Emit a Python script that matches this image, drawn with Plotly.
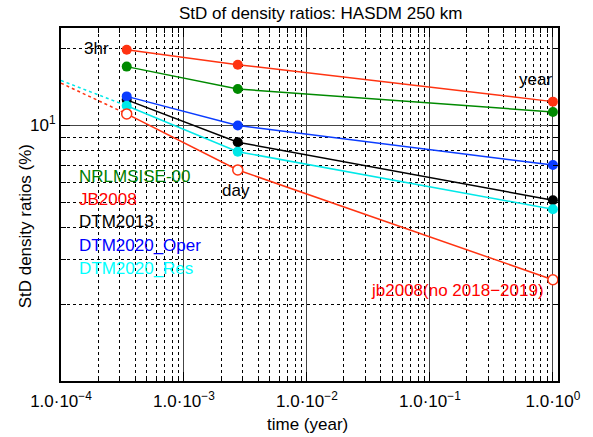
import plotly.graph_objects as go

# ---------------- data ----------------
times = [3 / 24 / 365.25, 1 / 365.25, 1.0]          # 3hr, day, year (in years)
nrlmsise = [17.0, 13.9, 11.3]
jb2008 = [19.8, 17.3, 12.4]
dtm2013 = [12.6, 8.6, 5.1]
dtm2020_oper = [13.0, 10.0, 7.0]
dtm2020_res = [11.95, 7.9, 4.7]
jb2008_no1819 = [11.1, 6.7, 2.49]

ext_times = [1e-4, 3 / 24 / 365.25]
ext_res = [15.0, 11.95]
ext_jb = [14.65, 11.1]

x_major = [1e-4, 1e-3, 1e-2, 1e-1, 1.0]
x_major_text = ["1.0·10<sup>−4</sup>", "1.0·10<sup>−3</sup>", "1.0·10<sup>−2</sup>",
                "1.0·10<sup>−1</sup>", "1.0·10<sup>0</sup>"]
x_minor = [m * d for d in [1e-4, 1e-3, 1e-2, 1e-1] for m in range(2, 10)]
y_major = [10]
y_major_text = ["10<sup>1</sup>"]
y_minor = [2, 3, 4, 5, 6, 7, 8, 9, 20]

FONT = "Liberation Sans, Arial, Helvetica, sans-serif"
FS = 17

RED = "#ff3311"
GREEN = "#008a00"
BLUE = "#0a3cff"
CYAN = "#00e8e8"

fig = go.Figure()

# dotted extensions
fig.add_trace(go.Scatter(x=ext_times, y=ext_res, mode="lines",
                         line=dict(color=CYAN, width=1.5, dash="dot"), showlegend=False))
fig.add_trace(go.Scatter(x=ext_times, y=ext_jb, mode="lines",
                         line=dict(color=RED, width=1.5, dash="dot"), showlegend=False))

series = [
    (nrlmsise, GREEN, False),
    (jb2008, RED, False),
    (dtm2013, "black", False),
    (dtm2020_oper, BLUE, False),
    (dtm2020_res, CYAN, False),
    (jb2008_no1819, RED, True),
]
for vals, col, hollow in series:
    if hollow:
        marker = dict(symbol="circle", size=10, color="white", line=dict(color=col, width=1.5))
    else:
        marker = dict(symbol="circle", size=10, color=col, line=dict(width=0))
    fig.add_trace(go.Scatter(x=times, y=vals, mode="lines+markers",
                             line=dict(color=col, width=1.5), marker=marker,
                             showlegend=False))

L, R, T, B = 61, 563, 28, 381
W, H = 593, 437


def px(x):
    return (x - L) / (R - L)


def py(y):
    return (B - y) / (B - T)


annots = []


def txt(s, x, y, color="black", xanchor="left", size=FS, angle=0):
    annots.append(dict(text=s, x=px(x), y=py(y), xref="paper", yref="paper",
                       xanchor=xanchor, yanchor="middle", showarrow=False,
                       textangle=angle,
                       font=dict(family=FONT, size=size, color=color)))


txt("3hr", 111, 48, xanchor="right")
txt("day", 222, 190)
txt("year", 559, 79, xanchor="right")
txt("NRLMSISE-00", 77, 176, color="#008000")
txt("JB2008", 77, 199, color="#ff0000")
txt("DTM2013", 77, 222, color="black")
txt("DTM2020_Oper", 77, 245, color="#0000ff")
txt("DTM2020_Res", 77, 268, color="#00ffff")
txt("jb2008(no 2018−2019)", 551, 290, color="#ff0000", xanchor="right")
txt("time (year)", 310, 424, xanchor="center")
txt("StD density ratios (%)", 25, 226, xanchor="center", angle=-90)
txt("StD of density ratios: HASDM 250 km", 323, 14, xanchor="center")

axis_common = dict(
    showline=True, linecolor="black", linewidth=2, mirror="allticks",
    ticks="inside", ticklen=9, tickwidth=1, tickcolor="black",
    showgrid=True, gridcolor="#444444", gridwidth=1,
    zeroline=False,
    tickfont=dict(family=FONT, size=FS, color="black"),
)

fig.update_layout(
    width=W, height=H,
    margin=dict(l=L, r=W - R, t=T, b=H - B),
    paper_bgcolor="white", plot_bgcolor="white",
    font=dict(family=FONT, size=FS, color="black"),
    annotations=annots,
    xaxis=dict(type="log", range=[-4, 0.0414], tickmode="array",
               tickvals=x_major, ticktext=x_major_text, ticklabelstandoff=4,
               minor=dict(tickmode="array", tickvals=x_minor, ticks="inside", ticklen=5,
                          tickcolor="black", showgrid=True, gridcolor="black",
                          griddash="dot", gridwidth=1),
               **axis_common),
    yaxis=dict(type="log", range=[0, 1.3816], tickmode="array",
               tickvals=y_major, ticktext=y_major_text,
               minor=dict(tickmode="array", tickvals=y_minor, ticks="inside", ticklen=5,
                          tickcolor="black", showgrid=True, gridcolor="black",
                          griddash="dot", gridwidth=1),
               **axis_common),
)

fig.write_html("out.html")
